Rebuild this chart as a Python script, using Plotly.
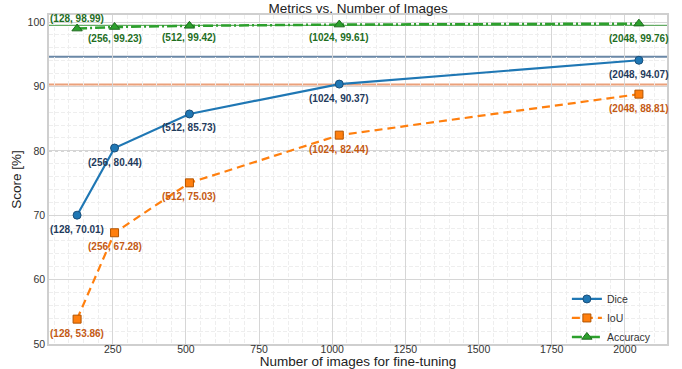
import plotly.graph_objects as go

# ---- data ----
images = [128, 256, 512, 1024, 2048]
dice = [70.01, 80.44, 85.73, 90.37, 94.07]
iou = [53.86, 67.28, 75.03, 82.44, 88.81]
accuracy = [98.99, 99.23, 99.42, 99.61, 99.76]
ref_dice = 94.6
ref_iou = 90.3
ref_acc = 99.5
threshold_lines = [80, 90]
x_tick_vals = [250, 500, 750, 1000, 1250, 1500, 1750, 2000]
y_tick_vals = [50, 60, 70, 80, 90, 100]

FONT = "Liberation Sans, Arial, Helvetica, sans-serif"

fig = go.Figure()

fig.add_trace(go.Scatter(
    x=images, y=dice, name="Dice", mode="lines+markers",
    line=dict(color="#1f77b4", width=2.2),
    marker=dict(symbol="circle", size=8, color="#1f77b4",
                line=dict(color="#1b4f7a", width=1)),
))
fig.add_trace(go.Scatter(
    x=images, y=iou, name="IoU", mode="lines+markers",
    line=dict(color="#ff7f0e", width=2.2, dash="8px,5px"),
    marker=dict(symbol="square", size=8, color="#ff7f0e",
                line=dict(color="#b35400", width=1)),
))
fig.add_trace(go.Scatter(
    x=images, y=accuracy, name="Accuracy", mode="lines+markers",
    line=dict(color="#2ca02c", width=2.5, dash="10px,3px,2px,3px"),
    marker=dict(symbol="triangle-up", size=9, color="#2ca02c",
                line=dict(color="#1e6b1e", width=1)),
))

# reference horizontal lines
for val, col, w in [(ref_dice, "rgba(80,115,150,0.85)", 2),
                    (ref_iou, "rgba(232,145,100,0.85)", 2),
                    (ref_acc, "rgba(60,150,60,0.8)", 1.2)]:
    fig.add_shape(type="line", xref="paper", yref="y", x0=0, x1=1, y0=val, y1=val,
                  line=dict(color=col, width=w), layer="below")
for val in threshold_lines:
    fig.add_shape(type="line", xref="paper", yref="y", x0=0, x1=1, y0=val, y1=val,
                  line=dict(color="rgba(120,120,120,0.9)", width=1, dash="dot"),
                  layer="below")

# annotations
def add_labels(ys, color, shifts):
    for x, y, s in zip(images, ys, shifts):
        fig.add_annotation(x=x, y=y, xref="x", yref="y", text=f"<b>({x}, {y:.2f})</b>",
                           showarrow=False, yshift=s,
                           font=dict(family=FONT, size=10, color=color))

add_labels(dice, "#1f3b5c", [-14, -14, -14, -14, -14])
add_labels(iou, "#c45a14", [-14, -14, -14, -14, -14])
add_labels(accuracy, "#1f6e1f", [10, -11, -12, -13, -15])

fig.update_layout(
    width=682, height=369,
    margin=dict(l=49, r=15, t=15, b=25, autoexpand=False),
    paper_bgcolor="white", plot_bgcolor="white",
    font=dict(family=FONT, color="#333333"),
    title=dict(text="Metrics vs. Number of Images", x=0.525, xanchor="center",
               xref="container", yref="container",
               y=1 - 8 / 369, yanchor="middle",
               font=dict(family=FONT, size=13.5, color="#222222")),
    showlegend=True,
    legend=dict(x=0.838, y=0.181, xanchor="left", yanchor="top",
                bgcolor="rgba(255,255,255,0)", borderwidth=0,
                font=dict(family=FONT, size=10.5, color="#333333"),
                tracegroupgap=0, itemwidth=30),
)

fig.update_xaxes(
    range=[32, 2144], tickvals=x_tick_vals, ticks="", ticklen=0,
    tickfont=dict(family=FONT, size=10.5, color="#333333"),
    ticklabelstandoff=-5,
    showgrid=True, gridcolor="#d6d6d6", gridwidth=1,
    minor=dict(dtick=50, tick0=0, showgrid=True, gridcolor="#eeeeee",
               griddash="4px,2px", gridwidth=0.8),
    showline=True, linecolor="#cfcfcf", linewidth=1.5, mirror=True,
    zeroline=False, automargin=True,
    title=dict(text="Number of images for fine-tuning", standoff=0,
               font=dict(family=FONT, size=13.5, color="#222222")),
)
fig.update_yaxes(
    range=[50, 101.1], tickvals=y_tick_vals, ticks="", ticklen=0,
    tickfont=dict(family=FONT, size=10.5, color="#333333"),
    showgrid=True, gridcolor="#d6d6d6", gridwidth=1,
    minor=dict(dtick=2, tick0=0, showgrid=True, gridcolor="#eeeeee",
               griddash="4px,2px", gridwidth=0.8),
    showline=True, linecolor="#cfcfcf", linewidth=1.5, mirror=True,
    zeroline=False, automargin=True,
    title=dict(text="Score [%]", standoff=3,
               font=dict(family=FONT, size=13.5, color="#222222")),
)

fig.write_html("out.html", config={"displayModeBar": False},
               post_script="document.body.style.margin='0px';document.body.style.overflow='hidden';")
